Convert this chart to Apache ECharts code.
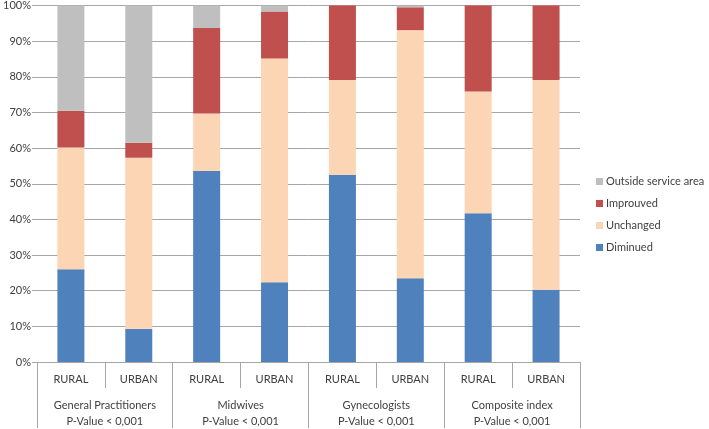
<!DOCTYPE html>
<html><head><meta charset="utf-8">
<script src="https://cdn.jsdelivr.net/npm/echarts@6/dist/echarts.min.js"></script>
<style>html,body{margin:0;padding:0;background:#fff}#c{width:709px;height:429px}</style>
</head><body><div id="c"></div>
<script>
var categories = ['RURAL','URBAN','RURAL','URBAN','RURAL','URBAN','RURAL','URBAN'];
var groups = ['General Practitioners\nP-Value < 0,001','Midwives\nP-Value < 0,001','Gynecologists\nP-Value < 0,001','Composite index\nP-Value < 0,001'];
var diminued = [26.0, 9.3, 53.6, 22.4, 52.5, 23.5, 41.7, 20.3];
var unchanged = [34.2, 48.0, 16.1, 62.7, 26.6, 69.6, 34.2, 58.8];
var improuved = [10.3, 4.2, 24.0, 13.2, 20.9, 6.4, 24.1, 20.9];
var outside = [29.5, 38.5, 6.3, 1.7, 0.0, 0.5, 0.0, 0.0];
var yTicks = [0,10,20,30,40,50,60,70,80,90,100];

var font = 'Lato';
var txt = '#404040';
var chart = echarts.init(document.getElementById('c'), null, {renderer:'canvas'});
function bar(name, data, color){
  return {name:name, type:'bar', stack:'s', data:data, barWidth:27,
    itemStyle:{color:color}, xAxisIndex:0, yAxisIndex:0};
}
chart.setOption({
  animation:false,
  grid:{left:35, right:129, top:4, bottom:67, containLabel:false},
  legend:{orient:'vertical', left:591, top:171, itemWidth:7, itemHeight:7, itemGap:11,
    icon:'rect', textStyle:{fontFamily:font, fontSize:11, color:txt, padding:[0,0,0,-2]},
    data:['Outside service area','Improuved','Unchanged','Diminued']},
  xAxis:[
    {type:'category', data:categories, position:'bottom',
     axisLine:{lineStyle:{color:'#A6A6A6'}},
     axisTick:{show:true, length:26, interval:0, lineStyle:{color:'#A6A6A6'}},
     axisLabel:{interval:0, margin:12, fontFamily:font, fontSize:11, color:txt},
     splitLine:{show:false}},
    {type:'category', data:groups, position:'bottom', gridIndex:0,
     axisLine:{show:false},
     axisTick:{show:true, length:66, interval:0, lineStyle:{color:'#A6A6A6'}},
     axisLabel:{interval:0, margin:35, fontFamily:font, fontSize:11, color:txt, lineHeight:16, verticalAlign:'top'},
     splitLine:{show:false}}
  ],
  yAxis:{type:'value', min:0, max:100, interval:10,
    axisLine:{show:false},
    axisTick:{show:true, length:5, lineStyle:{color:'#A6A6A6'}},
    axisLabel:{formatter:function(v){return yTicks.indexOf(v)>=0? v+'%':'';}, fontFamily:font, fontSize:11, color:txt, margin:6},
    splitLine:{lineStyle:{color:'#A6A6A6'}}},
  series:[
    bar('Diminued', diminued, '#4F81BD'),
    bar('Unchanged', unchanged, '#FCD5B5'),
    bar('Improuved', improuved, '#C0504D'),
    bar('Outside service area', outside, '#BFBFBF')
  ]
});
</script></body></html>
